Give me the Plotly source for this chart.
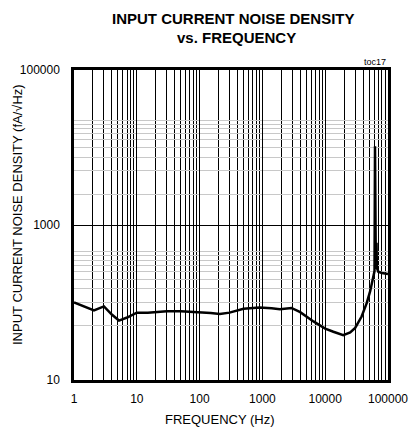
import plotly.graph_objects as go

# Frequency (Hz) and input current noise density (fA/√Hz)
freq = [1, 1.5, 2.08, 2.5, 3, 4, 5.2, 7, 10, 15, 20, 30, 50, 100, 150, 210, 300,
        500, 900, 1400, 1900, 2900, 4000, 6500, 10000, 13500, 19400, 25000, 30000,
        38000, 45800, 52000, 58300, 61000, 62100, 62500, 64000, 65600, 66500,
        70000, 80000, 100000]
noise = [100, 88, 79, 84, 89, 70, 58.5, 64, 74, 74, 75, 77, 77, 75, 73, 71, 74,
         83, 86, 84, 82, 85, 75, 57, 46, 42, 38, 41, 47,
         66, 98, 140, 217, 255, 10400, 300, 270, 590, 280,
         250, 240, 233]

x_ticks = [1, 10, 100, 1000, 10000, 100000]
x_tick_text = ["1", "10", "100", "1000", "10000", "100000"]
x_minor = [m * 10 ** e for e in range(0, 5) for m in range(2, 10)]

y_ticks = [10, 1000, 100000]
y_tick_text = ["10", "1000", "100000"]
y_minor = [50, 100, 150, 200, 250, 300, 350, 400, 450,
           2500, 5000, 7500, 10000, 12500, 15000, 17500, 20000, 22500]

FONT = "Liberation Sans, Arial, sans-serif"

fig = go.Figure()
fig.add_trace(go.Scatter(x=freq, y=noise, mode="lines",
                         line=dict(color="black", width=2.5),
                         showlegend=False, hoverinfo="skip"))

fig.update_layout(
    width=409, height=436,
    margin=dict(l=74, r=21, t=70, b=56, autoexpand=False),
    paper_bgcolor="white", plot_bgcolor="white",
    font=dict(family=FONT, color="black", size=12),
)

fig.update_xaxes(
    type="log", range=[0, 5], automargin=False,
    tickmode="array", tickvals=x_ticks, ticktext=x_tick_text,
    ticks="", tickfont=dict(size=12), ticklabelstandoff=6,
    showgrid=True, gridcolor="black", gridwidth=1,
    minor=dict(tickmode="array", tickvals=x_minor, showgrid=True,
               gridcolor="black", gridwidth=1, ticks=""),
    showline=True, linecolor="black", linewidth=2.5, mirror=True,
    zeroline=False,
)
fig.update_yaxes(
    type="log", range=[1, 5], automargin=False,
    tickmode="array", tickvals=y_ticks, ticktext=y_tick_text,
    ticks="", tickfont=dict(size=12), ticklabelstandoff=9,
    showgrid=True, gridcolor="black", gridwidth=1,
    minor=dict(tickmode="array", tickvals=y_minor, showgrid=True,
               gridcolor="#c8c8c8", gridwidth=1, ticks=""),
    showline=True, linecolor="black", linewidth=2.5, mirror=True,
    zeroline=False,
)

# Titles (placed as annotations for exact positioning)
fig.add_annotation(text="<b>INPUT CURRENT NOISE DENSITY</b>", xref="paper", yref="paper",
                   x=(233 - 74) / 314, y=(380 - 18) / 310, xanchor="center", yanchor="middle",
                   showarrow=False, font=dict(size=15, family=FONT, color="black"))
fig.add_annotation(text="<b>vs. FREQUENCY</b>", xref="paper", yref="paper",
                   x=(236 - 74) / 314, y=(380 - 37.5) / 310, xanchor="center", yanchor="middle",
                   showarrow=False, font=dict(size=15, family=FONT, color="black"))
fig.add_annotation(text="FREQUENCY (Hz)", xref="paper", yref="paper",
                   x=(220 - 74) / 314, y=(380 - 419) / 310, xanchor="center", yanchor="middle",
                   showarrow=False, font=dict(size=13, family=FONT, color="black"))
fig.add_annotation(text="INPUT CURRENT NOISE DENSITY (fA/√Hz)", xref="paper", yref="paper",
                   x=(17 - 74) / 314, y=(380 - 215) / 310, xanchor="center", yanchor="middle",
                   textangle=-90, showarrow=False,
                   font=dict(size=13, family=FONT, color="black"))
fig.add_annotation(text="toc17", xref="paper", yref="paper", x=1, y=1,
                   xanchor="right", yanchor="bottom", yshift=1, showarrow=False,
                   font=dict(size=9, family=FONT, color="black"))

fig.write_html("out.html",
               config={"displayModeBar": False},
               post_script="document.body.style.margin='0';document.body.style.overflow='hidden';")
